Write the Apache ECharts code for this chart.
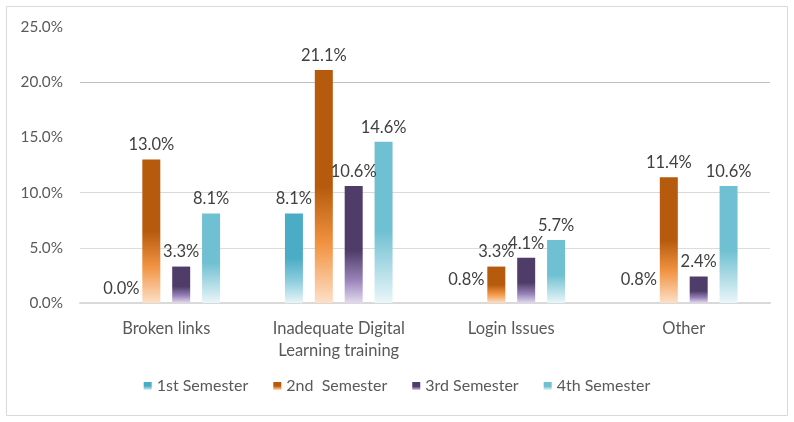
<!DOCTYPE html>
<html>
<head>
<meta charset="utf-8">
<script src="https://cdn.jsdelivr.net/npm/echarts@6/dist/echarts.min.js"></script>
<style>
  html, body { margin: 0; padding: 0; background: #fff; }
  #myCharts { width: 794px; height: 422px; }
</style>
</head>
<body>
<div id="myCharts"></div>
<script>
// categories and values (percent)
var categories = ['Broken links', 'Inadequate Digital\nLearning training', 'Login Issues', 'Other']
var seriesNames = ['1st Semester', '2nd  Semester', '3rd Semester', '4th Semester']
var sem1 = [0.0, 8.1, 0.8, 0.8]
var sem2 = [13.0, 21.1, 3.3, 11.4]
var sem3 = [3.3, 10.6, 4.1, 2.4]
var sem4 = [8.1, 14.6, 5.7, 10.6]
// the reference shows a label but no bar for these 1st semester values
var sem1Hidden = [false, false, true, true]
var yTicks = [0, 5, 10, 15, 20, 25]

function grad(stops) {
    return new echarts.graphic.LinearGradient(0, 0, 0, 1, stops.map(function (s) {
        return { offset: s[0], color: s[1] }
    }))
}

var fills = [
    grad([[0, '#4bacc6'], [0.5, '#4bacc6'], [0.75, '#8ccddd'], [1, '#e8f5f8']]),
    grad([[0, '#b65a0d'], [0.5, '#b65a0d'], [0.75, '#f29443'], [1, '#fde0c8']]),
    grad([[0, '#4f3c69'], [0.55, '#4f3c69'], [0.8, '#9882b9'], [1, '#e2daee']]),
    grad([[0, '#6fc0d2'], [0.55, '#6fc0d2'], [1, '#eaf6f9']])
]

var allData = [sem1, sem2, sem3, sem4]
var fontFamily = 'Lato, "Open Sans", sans-serif'

var myChart = echarts.init(document.getElementById('myCharts'))
myChart.setOption({
    animation: false,
    backgroundColor: '#fff',
    textStyle: { fontFamily: fontFamily },
    graphic: [{
        type: 'rect',
        shape: { x: 6.5, y: 6.5, width: 781, height: 409 },
        style: { fill: 'none', stroke: '#d9d9d9', lineWidth: 1 },
        silent: true
    }],
    legend: {
        bottom: 23,
        left: 'center',
        itemWidth: 8,
        itemHeight: 8,
        itemGap: 25,
        icon: 'rect',
        textStyle: { color: '#595959', fontSize: 16, fontFamily: fontFamily },
        data: seriesNames
    },
    grid: { left: 80, right: 24, top: 27, bottom: 119 },
    xAxis: {
        type: 'category',
        data: categories,
        axisTick: { show: false },
        axisLine: { lineStyle: { color: '#d9d9d9', width: 2 } },
        axisLabel: { color: '#595959', fontSize: 16.5, margin: 15, lineHeight: 22, fontFamily: fontFamily }
    },
    yAxis: {
        type: 'value',
        min: yTicks[0],
        max: yTicks[yTicks.length - 1],
        interval: 5,
        axisLine: { show: false },
        axisTick: { show: false },
        axisLabel: {
            color: '#595959', fontSize: 15.3, margin: 17, fontFamily: fontFamily,
            formatter: function (v) { return v.toFixed(1) + '%' }
        },
        splitLine: {
            lineStyle: { color: ['transparent', '#dcdcdc', '#d9d9d9', 'transparent', '#bdbdbd', 'transparent'] }
        }
    },
    series: allData.map(function (vals, i) {
        return {
            name: seriesNames[i],
            type: 'bar',
            barWidth: 18,
            barGap: '66%',
            itemStyle: { color: fills[i] },
            label: {
                show: true,
                position: 'top',
                distance: 6,
                color: '#404040',
                fontSize: 16.5,
                fontFamily: fontFamily,
                formatter: function (p) { return p.value.toFixed(1) + '%' }
            },
            data: vals.map(function (v, j) {
                if (i === 0 && sem1Hidden[j]) {
                    return { value: v, itemStyle: { opacity: 0 }, label: { opacity: 1 } }
                }
                return v
            })
        }
    })
})
</script>
</body>
</html>
